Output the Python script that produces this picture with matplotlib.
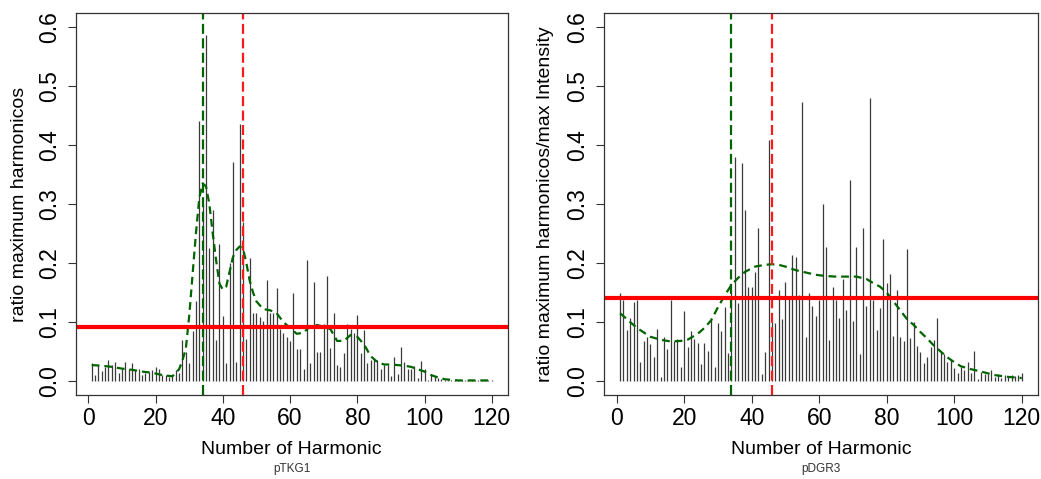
import matplotlib
matplotlib.use("Agg")
import matplotlib.pyplot as plt
import numpy as np

plt.rcParams['font.family'] = ['Liberation Sans', 'DejaVu Sans']

harmonics = list(range(1, 121))

ptkg1_values = [
    0.030, 0.010, 0.028, 0.017, 0.024, 0.036, 0.027, 0.033, 0.013, 0.021,
    0.032, 0.021, 0.030, 0.019, 0.020, 0.010, 0.013, 0.016, 0.018, 0.024,
    0.021, 0.010, 0.010, 0.007, 0.010, 0.019, 0.013, 0.070, 0.050, 0.030,
    0.085, 0.135, 0.440, 0.300, 0.586, 0.225, 0.290, 0.070, 0.233, 0.110,
    0.030, 0.200, 0.372, 0.032, 0.435, 0.270, 0.072, 0.208, 0.116, 0.116,
    0.109, 0.102, 0.172, 0.116, 0.116, 0.157, 0.089, 0.081, 0.075, 0.068,
    0.149, 0.054, 0.054, 0.021, 0.205, 0.030, 0.168, 0.050, 0.050, 0.097,
    0.178, 0.056, 0.115, 0.027, 0.023, 0.047, 0.097, 0.089, 0.081, 0.112,
    0.047, 0.087, 0.030, 0.036, 0.037, 0.036, 0.020, 0.028, 0.027, 0.008,
    0.041, 0.012, 0.057, 0.033, 0.020, 0.020, 0.025, 0.005, 0.034, 0.020,
    0.002, 0.010, 0.008, 0.005, 0.003, 0.002, 0.001, 0.002, 0.001, 0.002,
    0.001, 0.001, 0.002, 0.001, 0.001, 0.002, 0.001, 0.001, 0.001, 0.002,
]

pdgr3_values = [
    0.149, 0.137, 0.086, 0.106, 0.134, 0.137, 0.033, 0.067, 0.074, 0.063,
    0.040, 0.089, 0.006, 0.075, 0.055, 0.138, 0.068, 0.071, 0.023, 0.119,
    0.058, 0.085, 0.072, 0.064, 0.029, 0.064, 0.051, 0.106, 0.024, 0.099,
    0.085, 0.126, 0.047, 0.150, 0.380, 0.132, 0.369, 0.290, 0.160, 0.160,
    0.184, 0.259, 0.012, 0.050, 0.408, 0.100, 0.098, 0.154, 0.105, 0.168,
    0.139, 0.214, 0.210, 0.146, 0.473, 0.074, 0.150, 0.127, 0.111, 0.137,
    0.300, 0.227, 0.069, 0.159, 0.138, 0.107, 0.173, 0.121, 0.341, 0.102,
    0.227, 0.046, 0.260, 0.128, 0.479, 0.138, 0.086, 0.124, 0.240, 0.166,
    0.181, 0.077, 0.154, 0.075, 0.068, 0.223, 0.073, 0.100, 0.060, 0.050,
    0.030, 0.041, 0.058, 0.069, 0.106, 0.050, 0.045, 0.033, 0.036, 0.022,
    0.014, 0.023, 0.019, 0.032, 0.014, 0.051, 0.004, 0.015, 0.012, 0.012,
    0.018, 0.007, 0.012, 0.005, 0.010, 0.006, 0.010, 0.009, 0.010, 0.013,
]

# smoothed (dashed green) curves, read at selected harmonics
ptkg1_curve_x = [1, 4, 7, 10, 13, 16, 19, 22, 25, 27, 28, 29, 30, 31, 32, 33, 34, 35,
                 36, 37, 38, 39, 40, 41, 42, 43, 44, 45, 46, 47, 48, 49, 50, 52, 54,
                 56, 58, 60, 62, 64, 66, 68, 70, 72, 74, 76, 78, 80, 82, 84, 86, 88,
                 90, 92, 94, 96, 98, 100, 102, 104, 106, 108, 110, 114, 120]
ptkg1_curve_y = [0.027, 0.026, 0.024, 0.021, 0.019, 0.016, 0.014, 0.010, 0.008, 0.020,
                 0.035, 0.055, 0.110, 0.180, 0.250, 0.310, 0.335, 0.330, 0.300, 0.250,
                 0.205, 0.165, 0.155, 0.160, 0.185, 0.210, 0.222, 0.228, 0.225, 0.200,
                 0.170, 0.150, 0.135, 0.122, 0.120, 0.115, 0.100, 0.090, 0.080, 0.082,
                 0.093, 0.095, 0.092, 0.088, 0.068, 0.068, 0.078, 0.075, 0.062, 0.042,
                 0.032, 0.028, 0.028, 0.027, 0.026, 0.024, 0.020, 0.016, 0.010, 0.006,
                 0.003, 0.002, 0.001, 0.001, 0.001]

pdgr3_curve_x = [1, 3, 6, 10, 13, 16, 19, 21, 24, 26, 28, 30, 32, 34, 36, 38, 41, 44,
                 46, 48, 50, 53, 56, 59, 62, 65, 68, 71, 74, 76, 78, 80, 82, 84, 86,
                 88, 90, 92, 94, 96, 98, 100, 102, 105, 108, 112, 116, 120]
pdgr3_curve_y = [0.115, 0.105, 0.090, 0.075, 0.070, 0.067, 0.068, 0.070, 0.080, 0.090,
                 0.103, 0.125, 0.145, 0.163, 0.175, 0.185, 0.194, 0.197, 0.198, 0.197,
                 0.194, 0.188, 0.184, 0.180, 0.178, 0.177, 0.177, 0.177, 0.173, 0.166,
                 0.160, 0.150, 0.135, 0.120, 0.105, 0.095, 0.083, 0.072, 0.060, 0.050,
                 0.040, 0.032, 0.025, 0.020, 0.016, 0.010, 0.007, 0.005]

green_vline = 34
red_vline = 46
ptkg1_threshold = 0.091
pdgr3_threshold = 0.141

xticks = [0, 20, 40, 60, 80, 100, 120]
yticks = [0.0, 0.1, 0.2, 0.3, 0.4, 0.5, 0.6]
ytick_labels = ["0.0", "0.1", "0.2", "0.3", "0.4", "0.5", "0.6"]

panels = [
    dict(values=ptkg1_values, cx=ptkg1_curve_x, cy=ptkg1_curve_y, thr=ptkg1_threshold,
         ylabel="ratio maximum harmonicos", sub="pTKG1",
         rect=[0.0727, 0.175, 0.4151, 0.798], ylab_x=20),
    dict(values=pdgr3_values, cx=pdgr3_curve_x, cy=pdgr3_curve_y, thr=pdgr3_threshold,
         ylabel="ratio maximum harmonicos/max Intensity", sub="pDGR3",
         rect=[0.5802, 0.175, 0.4167, 0.798], ylab_x=545),
]

W, H = 1041, 479
fig = plt.figure(figsize=(W / 100, H / 100), dpi=100)

for p in panels:
    ax = fig.add_axes(p["rect"])
    ax.vlines(harmonics, 0, p["values"], colors="#3a3a3a", linewidth=0.9)
    ax.plot(p["cx"], p["cy"], color="#006400", linewidth=1.6,
            linestyle=(0, (3.5, 2.2)))
    ax.axvline(green_vline, color="#006400", linewidth=1.6, linestyle=(0, (4.5, 2)))
    ax.axvline(red_vline, color="#ff1a1a", linewidth=1.6, linestyle=(0, (4.5, 2)))
    ax.axhline(p["thr"], color="#ff0000", linewidth=3.0)
    ax.set_xlim(-3.76, 124.76)
    ax.set_ylim(-0.024, 0.624)
    ax.set_xticks(xticks)
    ax.set_xticklabels([str(t) for t in xticks], fontsize=16.5)
    ax.set_yticks(yticks)
    ax.set_yticklabels(ytick_labels, fontsize=16.5, rotation=90, va="center")
    ax.tick_params(axis="x", direction="out", length=5.5, width=0.8, pad=3, color="#333333")
    ax.tick_params(axis="y", direction="out", length=5.5, width=0.8, pad=5, color="#333333")
    for s in ax.spines.values():
        s.set_linewidth(0.9)
        s.set_color("#333333")
    # axis titles placed in pixel coordinates
    x0, y0, w, h = p["rect"]
    cxp = (x0 + w / 2)
    fig.text(cxp, 1 - 450 / H, "Number of Harmonic", ha="center", va="center", fontsize=14)
    fig.text(cxp, 1 - 469 / H, p["sub"], ha="center", va="center", fontsize=8.5, color="#333333")
    fig.text(p["ylab_x"] / W, y0 + h / 2, p["ylabel"], ha="center", va="center",
             rotation=90, fontsize=14)

fig.savefig("out.png", dpi=100)
